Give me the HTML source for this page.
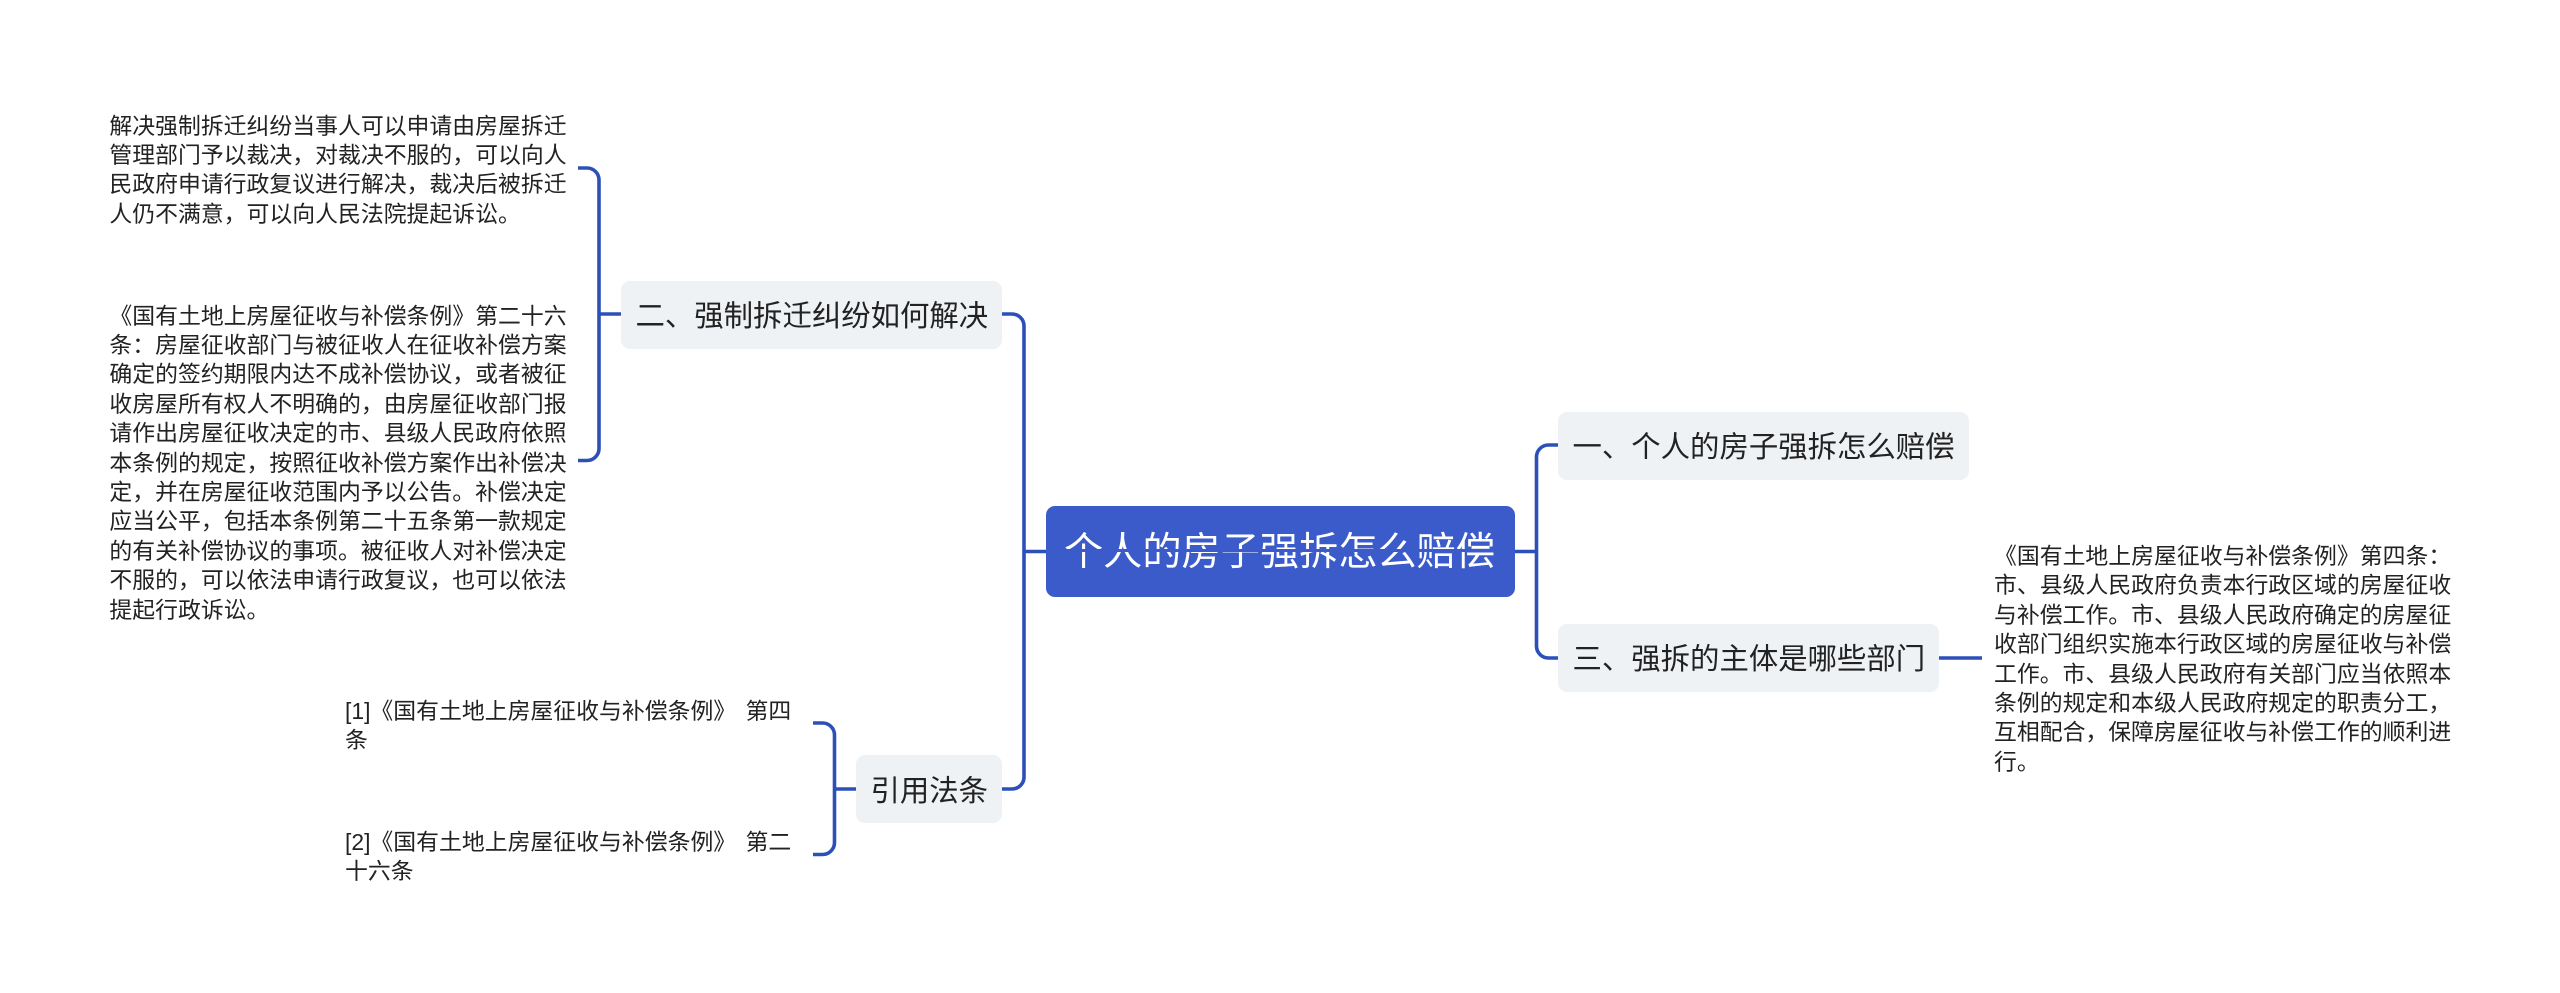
<!DOCTYPE html>
<html lang="zh-CN">
<head>
<meta charset="utf-8">
<title>个人的房子强拆怎么赔偿</title>
<style>
html,body{margin:0;padding:0;background:#fff;}
body{width:2560px;height:993px;position:relative;overflow:hidden;font-family:"Liberation Sans","Noto Sans CJK SC",sans-serif;color:#222;}
.t{position:absolute;font-size:22.86px;line-height:29.4px;white-space:nowrap;}
.n{position:absolute;background:#eff2f5;border-radius:9px;font-size:29.4px;line-height:29.4px;white-space:nowrap;display:flex;align-items:center;box-sizing:border-box;padding-left:14.5px;padding-top:5px;}
.root{position:absolute;left:1046px;top:506px;width:469px;height:91px;background:#3b5bcb;border-radius:9px;color:#fff;font-size:39.2px;line-height:39.2px;white-space:nowrap;display:flex;align-items:center;box-sizing:border-box;padding-left:18px;padding-top:3px;}
svg{position:absolute;left:0;top:0;}
</style>
</head>
<body>
<svg width="2560" height="993" viewBox="0 0 2560 993" fill="none" stroke="#2c50b8" stroke-width="3.6">
<path d="M578 168H587a12 12 0 0 1 12 12V448.500a12 12 0 0 1 -12 12H578"/>
<path d="M599 314H621"/>
<path d="M1002 314H1012a12 12 0 0 1 12 12V777a12 12 0 0 1 -12 12H1002"/>
<path d="M813 723H822.500a12 12 0 0 1 12 12V842.500a12 12 0 0 1 -12 12H813"/>
<path d="M834.500 789H856"/>
<path d="M1558 445H1548.500a12 12 0 0 0 -12 12V646a12 12 0 0 0 12 12H1558"/>
<path d="M1939 658H1982"/>
</svg>

<div class="t" style="left:109.400px;top:111.500px;">解决强制拆迁纠纷当事人可以申请由房屋拆迁<br>管理部门予以裁决，对裁决不服的，可以向人<br>民政府申请行政复议进行解决，裁决后被拆迁<br>人仍不满意，可以向人民法院提起诉讼。</div>

<div class="t" style="left:109.400px;top:301.500px;">《国有土地上房屋征收与补偿条例》第二十六<br>条：房屋征收部门与被征收人在征收补偿方案<br>确定的签约期限内达不成补偿协议，或者被征<br>收房屋所有权人不明确的，由房屋征收部门报<br>请作出房屋征收决定的市、县级人民政府依照<br>本条例的规定，按照征收补偿方案作出补偿决<br>定，并在房屋征收范围内予以公告。补偿决定<br>应当公平，包括本条例第二十五条第一款规定<br>的有关补偿协议的事项。被征收人对补偿决定<br>不服的，可以依法申请行政复议，也可以依法<br>提起行政诉讼。</div>

<div class="t" style="left:345px;top:697px;word-spacing:3px;">[1]《国有土地上房屋征收与补偿条例》 第四<br>条</div>
<div class="t" style="left:345px;top:828px;word-spacing:3px;">[2]《国有土地上房屋征收与补偿条例》 第二<br>十六条</div>

<div class="t" style="left:1994px;top:542px;">《国有土地上房屋征收与补偿条例》第四条：<br>市、县级人民政府负责本行政区域的房屋征收<br>与补偿工作。市、县级人民政府确定的房屋征<br>收部门组织实施本行政区域的房屋征收与补偿<br>工作。市、县级人民政府有关部门应当依照本<br>条例的规定和本级人民政府规定的职责分工，<br>互相配合，保障房屋征收与补偿工作的顺利进<br>行。</div>

<div class="n" style="left:621px;top:280.500px;width:381px;height:68px;">二、强制拆迁纠纷如何解决</div>
<div class="n" style="left:856px;top:755px;width:146px;height:68px;">引用法条</div>
<div class="n" style="left:1558px;top:411.500px;width:411px;height:68px;">一、个人的房子强拆怎么赔偿</div>
<div class="n" style="left:1558px;top:624px;width:381px;height:68px;padding-top:3px;">三、强拆的主体是哪些部门</div>

<div class="root">个人的房子强拆怎么赔偿</div>

<svg width="2560" height="993" viewBox="0 0 2560 993" fill="none">
<path d="M1024 551.500H1046" stroke="#2c50b8" stroke-width="3.6"/>
<path d="M1046 550.500H1515" stroke="#3b5bcb" stroke-width="3"/>
<path d="M1515 551.500H1536.500" stroke="#2c50b8" stroke-width="3.6"/>
</svg>
</body>
</html>
